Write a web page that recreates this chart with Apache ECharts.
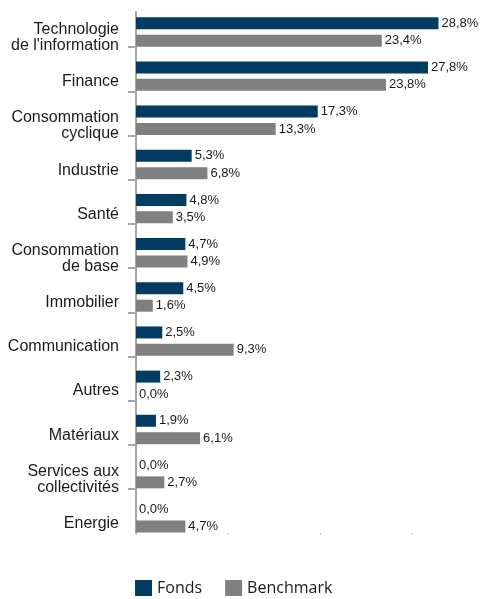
<!DOCTYPE html>
<html>
<head>
<meta charset="utf-8">
<script src="https://cdn.jsdelivr.net/npm/echarts@6/dist/echarts.min.js"></script>
<style>
html,body{margin:0;padding:0;background:#fff;}
#chart{width:480px;height:599px;}
</style>
</head>
<body>
<div id="chart"></div>
<script>
const categories = [
  "Technologie\nde l'information",
  "Finance",
  "Consommation\ncyclique",
  "Industrie",
  "Santé",
  "Consommation\nde base",
  "Immobilier",
  "Communication",
  "Autres",
  "Matériaux",
  "Services aux\ncollectivités",
  "Energie"
];
const fonds = [28.8, 27.8, 17.3, 5.3, 4.8, 4.7, 4.5, 2.5, 2.3, 1.9, 0.0, 0.0];
const benchmark = [23.4, 23.8, 13.3, 6.8, 3.5, 4.9, 1.6, 9.3, 0.0, 6.1, 2.7, 4.7];
const seriesNames = ["Fonds", "Benchmark"];
const xMin = 0, xMax = 32.75, xInterval = 8.75, xTickMax = 26.25;
const tickSlots = ["", "", "", "", "", "", "", "", "", "", ""];

const chart = echarts.init(document.getElementById('chart'), null, {renderer: 'canvas'});
const fmt = p => p.value.toFixed(1).replace('.', ',') + '%';
const labelStyle = {
  show: true, position: 'right', distance: 3, formatter: fmt,
  fontFamily: 'Liberation Sans', fontSize: 13, color: '#1a1a1a'
};
const axisGray = '#a6a6a6';
const pxPerUnit = 344 / xMax;

chart.setOption({
  animation: false,
  backgroundColor: '#fff',
  legend: {
    data: seriesNames,
    left: 135, top: 580, padding: 0,
    icon: 'rect', itemWidth: 17, itemHeight: 16, itemGap: 23,
    textStyle: {fontFamily: 'Open Sans', fontSize: 16, color: '#1a1a1a'}
  },
  grid: [
    {left: 136, right: 0, top: 9.9, bottom: 59.1, containLabel: false},
    {left: 136, width: xTickMax * pxPerUnit, top: 12, bottom: 66, containLabel: false},
    {left: 136, right: 0, top: 47.17, bottom: 110, containLabel: false},
    {left: 136, right: 0, top: 15.6, bottom: 53.4, containLabel: false}
  ],
  xAxis: [
    {gridIndex: 0, type: 'value', min: xMin, max: xMax,
     axisLine: {show: false}, axisTick: {show: false}, axisLabel: {show: false}, splitLine: {show: false}},
    {gridIndex: 1, type: 'value', min: xMin, max: xTickMax, interval: xInterval,
     axisLine: {show: false}, axisTick: {show: true, length: 2, lineStyle: {color: '#c4c4c4', width: 1}},
     axisLabel: {show: false}, splitLine: {show: false}},
    {gridIndex: 2, type: 'value', min: xMin, max: xMax, show: false},
    {gridIndex: 3, type: 'value', min: xMin, max: xMax, show: false}
  ],
  yAxis: [
    {gridIndex: 0, type: 'category', data: categories, inverse: true,
     axisLine: {show: false}, axisTick: {show: false}, axisLabel: {show: false}},
    {gridIndex: 1, type: 'value', min: 0, max: 1, offset: 1,
     axisLine: {show: true, lineStyle: {color: axisGray, width: 2}},
     axisTick: {show: false}, axisLabel: {show: false}, splitLine: {show: false}},
    {gridIndex: 2, type: 'category', data: tickSlots, boundaryGap: false, offset: 1,
     axisLine: {show: false},
     axisTick: {show: true, interval: 0, length: 8, lineStyle: {color: axisGray, width: 2}},
     axisLabel: {show: false}, splitLine: {show: false}},
    {gridIndex: 3, type: 'category', data: categories, inverse: true,
     axisLine: {show: false}, axisTick: {show: false}, splitLine: {show: false},
     axisLabel: {interval: 0, margin: 17, fontFamily: 'Liberation Sans', fontSize: 16, lineHeight: 16,
                 color: '#1a1a1a', align: 'right'}}
  ],
  series: [
    {name: seriesNames[0], type: 'bar', xAxisIndex: 0, yAxisIndex: 0, data: fonds,
     barWidth: 12, barGap: '45%', itemStyle: {color: '#033c63'}, label: labelStyle, z: 3},
    {name: seriesNames[1], type: 'bar', xAxisIndex: 0, yAxisIndex: 0, data: benchmark,
     barWidth: 12, barGap: '45%', itemStyle: {color: '#808080'}, label: labelStyle, z: 3}
  ]
});
</script>
</body>
</html>
